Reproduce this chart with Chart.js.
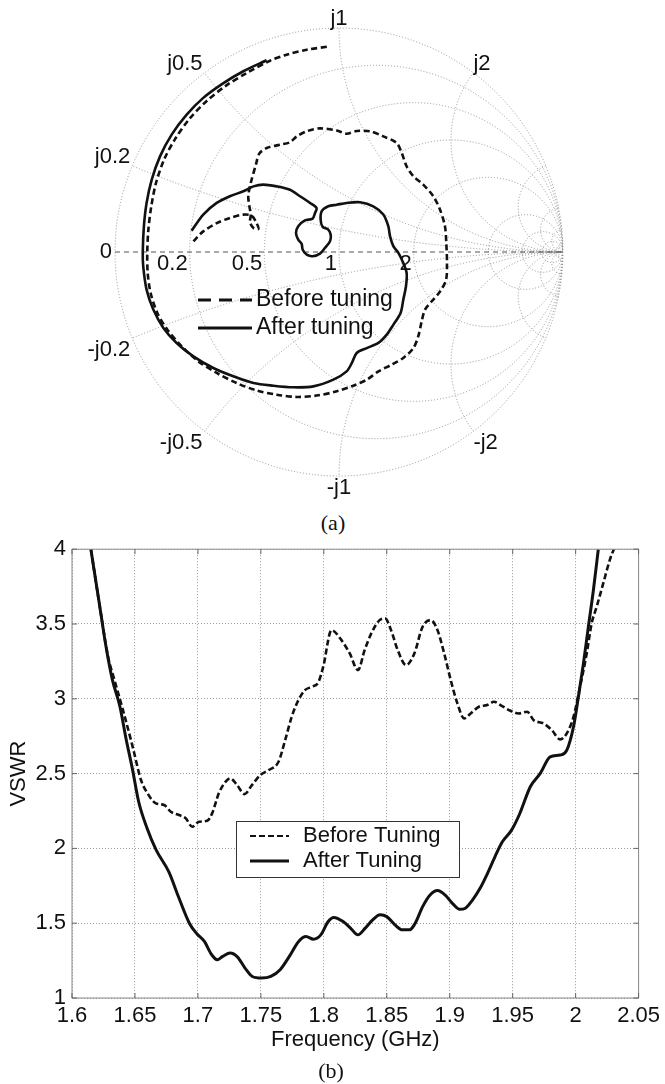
<!DOCTYPE html>
<html>
<head>
<meta charset="utf-8">
<script src="https://cdn.jsdelivr.net/npm/chart.js@4.4.1/dist/chart.umd.min.js"></script>
<style>
  html, body { margin: 0; padding: 0; background: #fff; }
  body { width: 665px; height: 1084px; position: relative; overflow: hidden; font-family: "Liberation Sans", Arial, sans-serif; }
  .box { position: absolute; left: 0; width: 665px; }
  #smithBox { top: 0; height: 510px; }
  #vswrBox { top: 530px; height: 554px; }
  .caption { position: absolute; font-family: "Liberation Serif", "Times New Roman", serif; font-size: 22px; color: #111; transform: translate(-50%, -50%); }
</style>
</head>
<body>
<div class="box" id="smithBox"><canvas id="smith"></canvas></div>
<div class="caption" style="left:333px; top:523px">(a)</div>
<div class="box" id="vswrBox"><canvas id="vswr"></canvas></div>
<div class="caption" style="left:331px; top:1071px">(b)</div>

<script>
// Smith chart grid values
const resistanceCircles = [0.2, 0.5, 1, 2, 5, 10, 20, 50];
const reactanceArcs = [0.2, 0.5, 1, 2, 5, 10, 20, 50];
const resistanceLabels = [0.2, 0.5, 1, 2];
const reactanceLabels = [0.2, 0.5, 1, 2];

const smithBeforeRe = [-0.650, -0.606, -0.546, -0.487, -0.427, -0.390, -0.368, -0.360, -0.382, -0.397,
  -0.394, -0.400, -0.405, -0.394, -0.371, -0.356, -0.323, -0.263, -0.219, -0.189,
  -0.144, -0.085, -0.010, 0.034, 0.079, 0.138, 0.198, 0.257, 0.280, 0.302,
  0.332, 0.376, 0.421, 0.451, 0.473, 0.479, 0.482, 0.478, 0.451, 0.414,
  0.384, 0.369, 0.354, 0.332, 0.287, 0.235, 0.176, 0.124, 0.064, -0.010,
  -0.100, -0.189, -0.278, -0.368, -0.457, -0.546, -0.628, -0.702, -0.766, -0.811,
  -0.841, -0.854, -0.856, -0.851, -0.838, -0.817, -0.781, -0.732, -0.668, -0.594,
  -0.504, -0.412, -0.308, -0.234, -0.144, -0.040];
const smithBeforeIm = [0.048, 0.092, 0.129, 0.152, 0.167, 0.162, 0.129, 0.103, 0.107, 0.132,
  0.167, 0.204, 0.249, 0.308, 0.390, 0.439, 0.464, 0.479, 0.490, 0.516,
  0.539, 0.552, 0.542, 0.528, 0.540, 0.539, 0.516, 0.487, 0.442, 0.382,
  0.338, 0.301, 0.249, 0.189, 0.115, 0.040, -0.049, -0.124, -0.176, -0.220,
  -0.257, -0.310, -0.376, -0.429, -0.473, -0.503, -0.533, -0.570, -0.597, -0.622,
  -0.641, -0.647, -0.637, -0.618, -0.585, -0.540, -0.488, -0.421, -0.347, -0.272,
  -0.183, -0.094, 0.000, 0.100, 0.204, 0.308, 0.412, 0.504, 0.594, 0.671,
  0.743, 0.799, 0.854, 0.881, 0.903, 0.918];
const smithAfterRe = [-0.658, -0.606, -0.546, -0.487, -0.427, -0.382, -0.338, -0.278, -0.219, -0.174,
  -0.129, -0.100, -0.107, -0.118, -0.152, -0.182, -0.192, -0.182, -0.167, -0.162,
  -0.144, -0.118, -0.085, -0.063, -0.040, -0.037, -0.048, -0.073, -0.082, -0.077,
  -0.048, -0.010, 0.034, 0.094, 0.153, 0.198, 0.220, 0.228, 0.243, 0.265,
  0.287, 0.302, 0.299, 0.287, 0.275, 0.243, 0.213, 0.176, 0.124, 0.079,
  0.057, 0.034, -0.025, -0.115, -0.204, -0.293, -0.382, -0.472, -0.561, -0.650,
  -0.725, -0.784, -0.829, -0.859, -0.874, -0.876, -0.871, -0.859, -0.836, -0.799,
  -0.747, -0.680, -0.606, -0.516, -0.427, -0.323];
const smithAfterIm = [0.095, 0.167, 0.219, 0.249, 0.271, 0.293, 0.301, 0.293, 0.278, 0.249,
  0.219, 0.196, 0.174, 0.149, 0.141, 0.115, 0.085, 0.055, 0.037, 0.010,
  -0.012, -0.019, -0.007, 0.018, 0.048, 0.077, 0.100, 0.112, 0.144, 0.182,
  0.204, 0.211, 0.219, 0.222, 0.204, 0.167, 0.115, 0.070, 0.025, -0.004,
  -0.049, -0.094, -0.153, -0.213, -0.272, -0.324, -0.369, -0.406, -0.429, -0.451,
  -0.496, -0.533, -0.570, -0.600, -0.604, -0.597, -0.585, -0.555, -0.518, -0.466,
  -0.406, -0.339, -0.257, -0.168, -0.064, 0.000, 0.115, 0.219, 0.323, 0.427,
  0.524, 0.613, 0.688, 0.754, 0.807, 0.856];

// VSWR curves, panel (b)
const freqBefore = [1.615, 1.622, 1.6284, 1.6337, 1.6405, 1.6482, 1.6548, 1.66, 1.6666, 1.6732,
  1.6785, 1.685, 1.6903, 1.6955, 1.7008, 1.7074, 1.7113, 1.7166, 1.7219, 1.7258,
  1.7311, 1.7371, 1.7429, 1.7495, 1.7561, 1.764, 1.7693, 1.7745, 1.7798, 1.785,
  1.7903, 1.7956, 1.7995, 1.8061, 1.814, 1.8206, 1.8271, 1.8324, 1.8377, 1.8443,
  1.8487, 1.8534, 1.8587, 1.8653, 1.8719, 1.8784, 1.885, 1.8903, 1.8956, 1.9008,
  1.9061, 1.9114, 1.9166, 1.9232, 1.9298, 1.9351, 1.9403, 1.9482, 1.9548, 1.9614,
  1.9667, 1.9746, 1.9811, 1.9877, 1.993, 1.9983, 2.0035, 2.0088, 2.0127, 2.0167,
  2.0219, 2.0271, 2.0303];
const vswrBefore = [4.0, 3.62, 3.29, 3.125, 2.924, 2.679, 2.457, 2.368, 2.301, 2.29,
  2.245, 2.223, 2.201, 2.145, 2.178, 2.185, 2.234, 2.368, 2.445, 2.468,
  2.423, 2.363, 2.423, 2.49, 2.523, 2.579, 2.724, 2.88, 2.991, 3.058,
  3.08, 3.11, 3.213, 3.459, 3.392, 3.303, 3.192, 3.325, 3.437, 3.526,
  3.537, 3.459, 3.325, 3.225, 3.303, 3.481, 3.526, 3.459, 3.303, 3.125,
  2.969, 2.869, 2.902, 2.947, 2.958, 2.98, 2.958, 2.92, 2.902, 2.913,
  2.857, 2.835, 2.791, 2.729, 2.769, 2.88, 3.08, 3.303, 3.503, 3.615,
  3.771, 3.927, 4.0];
const freqAfter = [1.615, 1.622, 1.627, 1.632, 1.638, 1.643, 1.648, 1.653, 1.6594, 1.6668,
  1.6771, 1.6844, 1.6932, 1.6991, 1.705, 1.7109, 1.7153, 1.7197, 1.7256, 1.7315,
  1.7374, 1.7432, 1.7506, 1.7579, 1.7653, 1.7726, 1.78, 1.7859, 1.7918, 1.7976,
  1.8035, 1.8079, 1.8153, 1.8212, 1.8271, 1.8329, 1.8388, 1.8447, 1.85, 1.8565,
  1.8624, 1.8682, 1.8726, 1.8785, 1.8844, 1.8903, 1.8962, 1.9021, 1.9079, 1.9124,
  1.9182, 1.9241, 1.93, 1.9359, 1.9418, 1.9491, 1.9555, 1.964, 1.9719, 1.9798,
  1.9877, 1.993, 1.9983, 2.0022, 2.0062, 2.0101, 2.0141, 2.018];
const vswrAfter = [4.0, 3.62, 3.35, 3.13, 2.95, 2.73, 2.53, 2.31, 2.14, 1.99,
  1.84, 1.68, 1.5, 1.43, 1.38, 1.29, 1.256, 1.278, 1.3, 1.273,
  1.2, 1.144, 1.133, 1.144, 1.189, 1.278, 1.378, 1.411, 1.393, 1.422,
  1.511, 1.538, 1.511, 1.467, 1.422, 1.467, 1.522, 1.556, 1.544, 1.489,
  1.456, 1.456, 1.5, 1.611, 1.689, 1.718, 1.689, 1.633, 1.593, 1.6,
  1.656, 1.733, 1.833, 1.944, 2.044, 2.122, 2.23, 2.412, 2.501, 2.612,
  2.624, 2.657, 2.813, 3.013, 3.236, 3.481, 3.726, 4.0];

const freqTicks = [1.6, 1.65, 1.7, 1.75, 1.8, 1.85, 1.9, 1.95, 2, 2.05];
const vswrTicks = [1, 1.5, 2, 2.5, 3, 3.5, 4];

const FONT = '"Liberation Sans", Arial, sans-serif';
Chart.defaults.font.family = FONT;
Chart.defaults.color = "#111";

function toPoints(xs, ys) {
  return xs.map((v, i) => ({ x: v, y: ys[i] }));
}

const smithGrid = {
  id: "smithGrid",
  beforeDatasetsDraw(chart) {
    const { ctx, scales: { x, y } } = chart;
    const px = (g) => x.getPixelForValue(g);
    const py = (g) => y.getPixelForValue(g);
    const unit = px(1) - px(0);
    const cx = px(0), cy = py(0);

    ctx.save();
    ctx.beginPath();
    ctx.arc(cx, cy, unit, 0, Math.PI * 2);
    ctx.clip();
    ctx.strokeStyle = "#8a8a8a";
    ctx.lineWidth = 0.9;
    ctx.setLineDash([1, 2]);
    resistanceCircles.forEach((r) => {
      ctx.beginPath();
      ctx.arc(px(r / (1 + r)), cy, unit / (1 + r), 0, Math.PI * 2);
      ctx.stroke();
    });
    reactanceArcs.forEach((v) => {
      [v, -v].forEach((s) => {
        ctx.beginPath();
        ctx.arc(px(1), py(1 / s), unit / v, 0, Math.PI * 2);
        ctx.stroke();
      });
    });
    ctx.restore();

    ctx.save();
    ctx.strokeStyle = "#8a8a8a";
    ctx.lineWidth = 0.9;
    ctx.setLineDash([1, 2]);
    ctx.beginPath();
    ctx.arc(cx, cy, unit, 0, Math.PI * 2);
    ctx.stroke();

    // real axis
    ctx.strokeStyle = "#555";
    ctx.lineWidth = 1.1;
    ctx.setLineDash([5, 4]);
    ctx.beginPath();
    ctx.moveTo(px(-1), cy);
    ctx.lineTo(px(1), cy);
    ctx.stroke();
    ctx.restore();
  },
  afterDraw(chart) {
    const { ctx, scales: { x, y } } = chart;
    const px = (g) => x.getPixelForValue(g);
    const py = (g) => y.getPixelForValue(g);
    ctx.save();
    ctx.fillStyle = "#111";
    ctx.font = "22px " + FONT;

    resistanceLabels.forEach((r) => {
      const g = (r - 1) / (r + 1);
      ctx.textAlign = "right";
      ctx.textBaseline = "top";
      ctx.fillText(String(r), px(g) - 2, py(0) + 1);
    });
    ctx.textAlign = "right";
    ctx.textBaseline = "middle";
    ctx.fillText("0", px(-1) - 3, py(0));

    reactanceLabels.forEach((v) => {
      [v, -v].forEach((s) => {
        const gr = (s * s - 1) / (s * s + 1);
        const gi = (2 * s) / (s * s + 1);
        const xx = px(gr), yy = py(gi);
        ctx.textAlign = gr < -0.01 ? "right" : gr > 0.01 ? "left" : "center";
        const dx = gr < -0.01 ? -2 : 0;
        const text = (s < 0 ? "-j" : "j") + String(v);
        if (s > 0) {
          ctx.textBaseline = "alphabetic";
          ctx.fillText(text, xx + dx, yy - 3);
        } else {
          ctx.textBaseline = "top";
          ctx.fillText(text, xx + dx, yy + 1);
        }
      });
    });

    // legend
    const rows = [300, 328];
    chart.data.datasets.forEach((ds, i) => {
      ctx.strokeStyle = "#111";
      ctx.lineWidth = 3.2;
      ctx.setLineDash(ds.borderDash && ds.borderDash.length ? [13, 8] : []);
      ctx.beginPath();
      ctx.moveTo(198, rows[i]);
      ctx.lineTo(252, rows[i]);
      ctx.stroke();
      ctx.setLineDash([]);
      ctx.font = "23px " + FONT;
      ctx.textAlign = "left";
      ctx.textBaseline = "middle";
      ctx.fillText(ds.label, 256, rows[i]);
    });
    ctx.restore();
  }
};

new Chart(document.getElementById("smith"), {
  type: "scatter",
  data: {
    datasets: [
      {
        label: "Before tuning",
        data: toPoints(smithBeforeRe, smithBeforeIm),
        showLine: true,
        borderColor: "#111",
        borderWidth: 2.6,
        borderDash: [6, 3.5],
        pointRadius: 0,
        tension: 0.3
      },
      {
        label: "After tuning",
        data: toPoints(smithAfterRe, smithAfterIm),
        showLine: true,
        borderColor: "#111",
        borderWidth: 2.6,
        borderDash: [],
        pointRadius: 0,
        tension: 0.3
      }
    ]
  },
  options: {
    responsive: true,
    maintainAspectRatio: false,
    animation: false,
    layout: { padding: { left: 115, right: 102, top: 28, bottom: 34 } },
    scales: {
      x: { type: "linear", min: -1, max: 1, display: false },
      y: { type: "linear", min: -1, max: 1, display: false }
    },
    plugins: { legend: { display: false }, tooltip: { enabled: false } }
  },
  plugins: [smithGrid]
});

const frameAndLegend = {
  id: "frameAndLegend",
  afterDraw(chart) {
    const { ctx, chartArea: a, scales: { x, y } } = chart;
    ctx.save();
    ctx.strokeStyle = "#8a8a8a";
    ctx.lineWidth = 1;
    ctx.strokeRect(a.left, a.top, a.right - a.left, a.bottom - a.top);
    ctx.strokeStyle = "#666";
    ctx.beginPath();
    x.ticks.forEach((t) => {
      const p = x.getPixelForValue(t.value);
      ctx.moveTo(p, a.bottom); ctx.lineTo(p, a.bottom - 5);
      ctx.moveTo(p, a.top); ctx.lineTo(p, a.top + 5);
    });
    y.ticks.forEach((t) => {
      const p = y.getPixelForValue(t.value);
      ctx.moveTo(a.left, p); ctx.lineTo(a.left + 5, p);
      ctx.moveTo(a.right, p); ctx.lineTo(a.right - 5, p);
    });
    ctx.stroke();

    // legend box
    ctx.fillStyle = "#fff";
    ctx.fillRect(236, 291, 223, 56);
    ctx.strokeStyle = "#333";
    ctx.strokeRect(236.5, 291.5, 223, 56);
    const rows = [306, 331];
    chart.data.datasets.forEach((ds, i) => {
      ctx.strokeStyle = "#111";
      ctx.lineWidth = ds.borderDash && ds.borderDash.length ? 1.8 : 3;
      ctx.setLineDash(ds.borderDash || []);
      ctx.beginPath();
      ctx.moveTo(250, rows[i]);
      ctx.lineTo(289, rows[i]);
      ctx.stroke();
      ctx.setLineDash([]);
      ctx.fillStyle = "#111";
      ctx.font = "22px " + FONT;
      ctx.textAlign = "left";
      ctx.textBaseline = "middle";
      ctx.fillText(ds.label, 303, rows[i]);
    });
    ctx.restore();
  }
};

const tickLabel = (v) => String(Math.round(v * 100) / 100);

new Chart(document.getElementById("vswr"), {
  type: "scatter",
  data: {
    datasets: [
      {
        label: "Before Tuning",
        data: toPoints(freqBefore, vswrBefore),
        showLine: true,
        borderColor: "#111",
        borderWidth: 2.6,
        borderDash: [6, 3],
        pointRadius: 0,
        cubicInterpolationMode: "monotone"
      },
      {
        label: "After Tuning",
        data: toPoints(freqAfter, vswrAfter),
        showLine: true,
        borderColor: "#111",
        borderWidth: 3,
        borderDash: [],
        pointRadius: 0,
        cubicInterpolationMode: "monotone"
      }
    ]
  },
  options: {
    responsive: true,
    maintainAspectRatio: false,
    animation: false,
    layout: { padding: { left: 0, right: 22, top: 19, bottom: 0 } },
    scales: {
      x: {
        type: "linear",
        min: 1.6,
        max: 2.05,
        afterBuildTicks: (s) => { s.ticks = freqTicks.map((v) => ({ value: v })); },
        afterFit: (s) => { s.height = 86; },
        grid: { color: "#9a9a9a", lineWidth: 1, drawTicks: false },
        border: { display: false, dash: [1, 2] },
        ticks: { padding: 5, font: { size: 22 }, maxRotation: 0, autoSkip: false, callback: tickLabel },
        title: { display: true, text: "Frequency (GHz)", font: { size: 22 }, padding: { top: 0, bottom: 31 } }
      },
      y: {
        type: "linear",
        min: 1,
        max: 4,
        afterBuildTicks: (s) => { s.ticks = vswrTicks.map((v) => ({ value: v })); },
        afterFit: (s) => { s.width = 72; },
        grid: { color: "#9a9a9a", lineWidth: 1, drawTicks: false },
        border: { display: false, dash: [1, 2] },
        ticks: { padding: 6, font: { size: 22 }, callback: tickLabel },
        title: { display: true, text: "VSWR", font: { size: 22 }, padding: { top: 6, bottom: 0 } }
      }
    },
    plugins: { legend: { display: false }, tooltip: { enabled: false } }
  },
  plugins: [frameAndLegend]
});
</script>
</body>
</html>
